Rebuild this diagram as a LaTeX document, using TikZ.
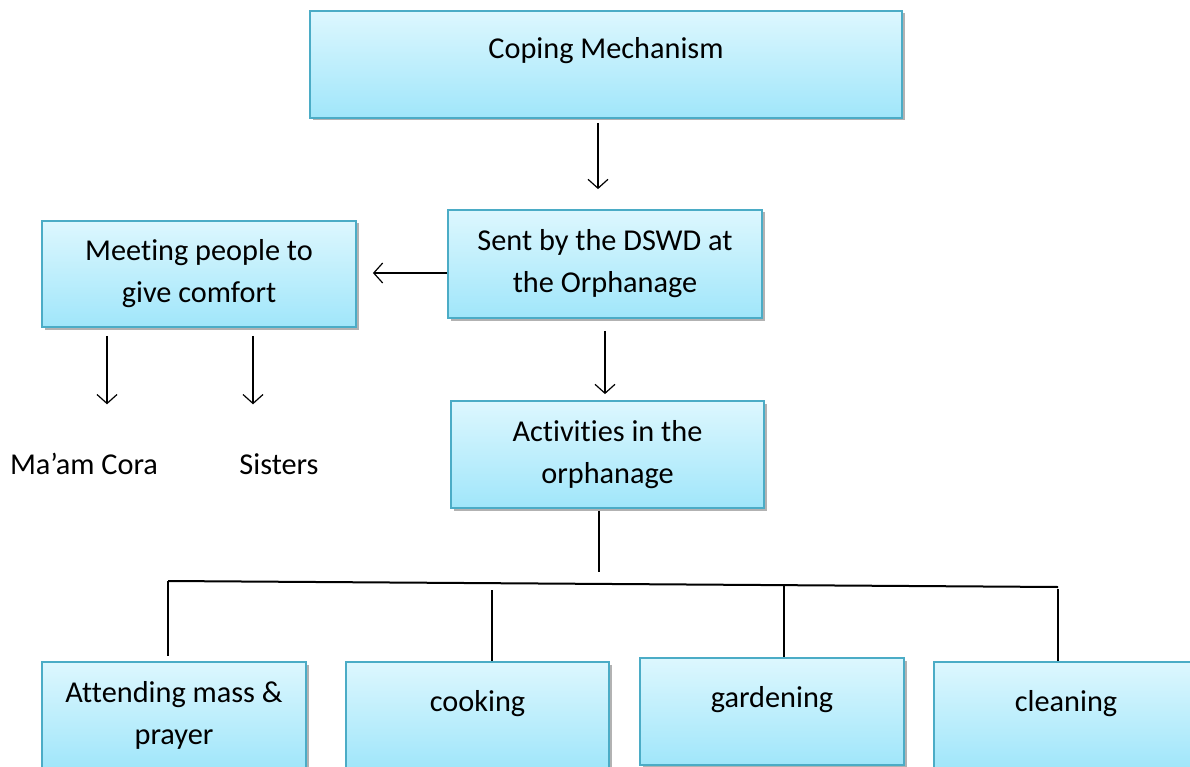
\documentclass[tikz,border=0pt]{standalone}
\usepackage{fontspec}
\setmainfont{Carlito}[Ligatures=NoCommon]
\usetikzlibrary{arrows.meta,shadows}
\definecolor{boxline}{HTML}{4BACC6}
\definecolor{boxtop}{HTML}{DDF7FE}
\definecolor{boxbot}{HTML}{A0E6FA}
\tikzset{
  stage/.style={draw=boxline,line width=1.8pt,top color=boxtop,bottom color=boxbot,
    align=center,inner sep=0pt,
    drop shadow={shadow xshift=2.5pt,shadow yshift=-2.5pt,opacity=.3,fill=black}},
  who/.style={text height=20pt,text depth=6pt,inner sep=0pt},
  arr/.style={line width=1.2pt,-{Straight Barb[length=9pt,width=20pt]}},
  link/.style={line width=2pt}
}
\begin{document}
\begin{tikzpicture}[x=1pt,y=-1pt,font=\fontsize{30.3pt}{42pt}\selectfont]
  \useasboundingbox (0,0) rectangle (1190,767);
  \clip (0,0) rectangle (1190,767);
  % coping mechanism
  \node[stage,minimum width=592pt,minimum height=107pt] (cope) at(606,64.5){Coping Mechanism\\[-8pt]\mbox{}};
  % sent by the DSWD
  \node[stage,minimum width=314pt,minimum height=108pt] (sent) at(605,264){Sent by the DSWD at\\the Orphanage};
  % meeting people
  \node[stage,minimum width=314pt,minimum height=106pt] (meet) at(199,274){Meeting people to\\give comfort};
  \node[who] (cora) at(84,467.5){Ma’am Cora};
  \node[who] (sis) at(279,467.5){Sisters};
  % activities
  \node[stage,minimum width=313pt,minimum height=107pt] (act) at(607.5,454.5){Activities in the\\orphanage};
  % activity boxes
  \node[stage,minimum width=264pt,minimum height=107pt] (attend) at(174,715.5){Attending mass \&\\prayer};
  \node[stage,minimum width=263pt,minimum height=107pt] (cook) at(477.5,715.5){cooking\\[-12pt]\mbox{}};
  \node[stage,minimum width=264pt,minimum height=107pt] (garden) at(772,711.5){gardening\\[-12pt]\mbox{}};
  \node[stage,minimum width=264pt,minimum height=107pt] (clean) at(1066,715.5){cleaning\\[-12pt]\mbox{}};
  % arrows
  \draw[arr] ([xshift=-8pt,yshift=-4pt]cope.south) -- ([xshift=-7pt,yshift=20pt]sent.north);
  \draw[arr] ([yshift=-9pt]sent.west) -- ([xshift=16pt,yshift=1pt]meet.east);
  \draw[arr] ([xshift=-92pt,yshift=-8pt]meet.south) -- ([xshift=23pt,yshift=50pt]cora.north);
  \draw[arr] ([xshift=54pt,yshift=-8pt]meet.south) -- ([xshift=-26pt,yshift=50pt]sis.north);
  \draw[arr] ([yshift=-12pt]sent.south) -- ([xshift=-2.5pt,yshift=6pt]act.north);
  % branch lines
  \coordinate (stem) at(599,572);
  \coordinate (barL) at(168,581);
  \coordinate (barR) at(1058,587);
  \coordinate (t2) at(492,590);
  \coordinate (t3) at(784,585);
  \coordinate (t4) at(1058,589);
  \draw[link] ([xshift=-8.5pt,yshift=-2pt]act.south) -- (stem);
  \draw[link] (barL) -- (barR);
  \draw[link,shorten >=5pt] (barL) -- (barL |- attend.north);
  \draw[link] (t2) -- (t2 |- cook.north);
  \draw[link] (t3) -- (t3 |- garden.north);
  \draw[link] (t4) -- (t4 |- clean.north);
\end{tikzpicture}
\end{document}
